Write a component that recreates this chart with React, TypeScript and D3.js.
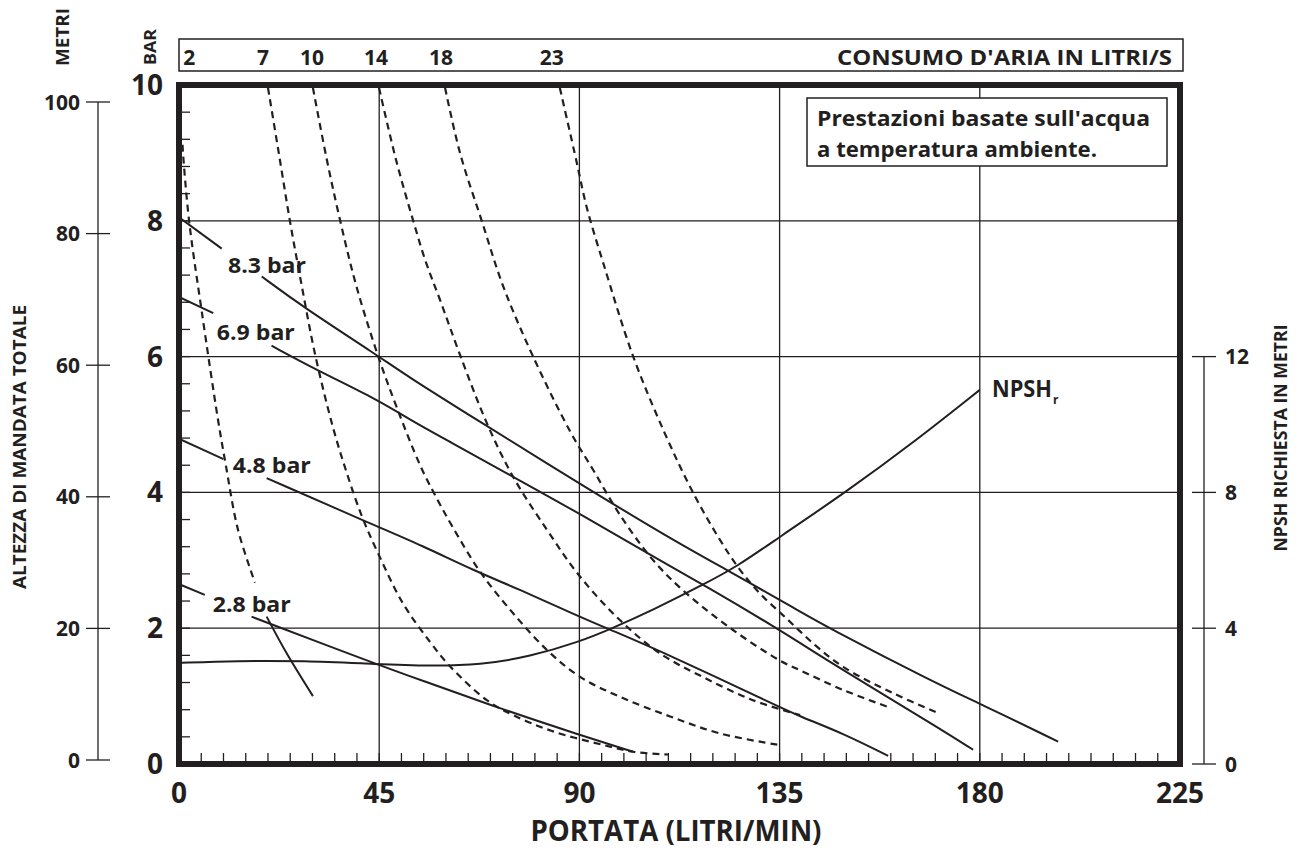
import React from 'react';
import * as d3 from 'd3';

// ---------- axes ----------
const flowTicks = [0, 45, 90, 135, 180, 225];
const barTicks = [0, 2, 4, 6, 8, 10];
const meterTicks = [0, 20, 40, 60, 80, 100];
const npshTicks = [0, 4, 8, 12];

// ---------- air consumption (L/s) ----------
const airLabels = ['2', '7', '10', '14', '18', '23'];
const airLabelFlow = [2.3, 18.9, 29.9, 44.3, 58.9, 83.8];

// [flow L/min, pressure bar]
const air2 = [[0.8, 9.12], [0.9, 9.0], [2.25, 8.01], [5.17, 6.64], [8.77, 5.07], [10.45, 4.43], [13.26, 3.45], [17.08, 2.67]];
const air2tail = [[19.7, 2.17], [24.2, 1.63], [30.1, 1.0]];
const air7 = [[20.0, 9.96], [22.5, 8.97], [24.9, 8.01], [27.6, 7.04], [30.6, 6.03], [34.6, 4.96], [37.5, 4.33], [41.1, 3.65], [44.7, 3.11], [50.3, 2.37], [56.4, 1.8], [60.9, 1.44], [69.2, 0.94], [75.1, 0.72], [84.1, 0.48], [95.4, 0.28], [102.1, 0.18], [110.0, 0.14]];
const air10 = [[30.1, 9.96], [33.2, 8.91], [36.2, 8.01], [39.9, 7.03], [44.8, 6.0], [48.9, 5.26], [54.2, 4.4], [57.8, 3.93], [61.6, 3.48], [67.7, 2.83], [75.1, 2.22], [82.7, 1.68], [90.0, 1.29], [99.1, 0.99], [110.4, 0.7], [121.6, 0.45], [134.9, 0.28]];
const air14 = [[44.96, 9.96], [48.78, 8.9], [52.6, 8.01], [55.5, 7.39], [58.7, 6.83], [63.2, 6.02], [69.2, 5.02], [75.1, 4.23], [82.7, 3.45], [89.9, 2.78], [99.1, 2.12], [108.1, 1.63], [117.8, 1.28], [129.0, 0.94], [139.6, 0.72]];
const air18 = [[59.8, 9.96], [63.2, 8.99], [68.0, 8.01], [72.9, 7.03], [79.6, 6.0], [87.9, 4.9], [93.1, 4.33], [99.1, 3.67], [106.6, 3.0], [114.1, 2.51], [124.6, 1.97], [134.9, 1.53], [139.6, 1.38], [149.3, 1.09], [160.2, 0.82]];
const air23 = [[85.6, 9.96], [89.4, 8.86], [91.6, 8.21], [95.4, 7.37], [102.1, 6.0], [109.2, 4.87], [115.6, 3.99], [121.6, 3.3], [126.1, 2.86], [130.6, 2.51], [136.6, 2.14], [143.0, 1.75], [149.3, 1.43], [160.6, 1.04], [170.3, 0.76]];

// ---------- pump curves at inlet air pressure ----------
const pressureLabels = ['8.3 bar', '6.9 bar', '4.8 bar', '2.8 bar'];
const p83a = [[0, 8.05], [9.6, 7.59]];
const p83b = [[18.6, 7.18], [27.9, 6.73], [44.8, 6.01], [50.4, 5.75], [66.9, 5.07], [90.0, 4.13], [110.4, 3.32], [123.1, 2.86], [139.8, 2.24], [145.6, 2.02], [169.5, 1.21], [180.0, 0.89], [197.6, 0.33]];
const p69a = [[0, 6.88], [7.7, 6.64]];
const p69b = [[20.8, 6.16], [31.0, 5.8], [44.8, 5.36], [51.9, 5.07], [60.2, 4.77], [75.1, 4.23], [90.0, 3.69], [110.4, 2.91], [117.9, 2.64], [134.9, 1.98], [139.6, 1.78], [149.3, 1.38], [170.3, 0.55], [178.5, 0.21]];
const p48a = [[0, 4.79], [10.0, 4.49]];
const p48b = [[19.7, 4.21], [44.8, 3.49], [54.2, 3.23], [66.9, 2.83], [75.9, 2.59], [90.0, 2.17], [96.9, 1.98], [111.1, 1.58], [134.9, 0.84], [139.6, 0.7], [149.3, 0.45], [159.4, 0.12]];
const p28a = [[0, 2.65], [5.8, 2.49]];
const p28b = [[16.3, 2.17], [44.8, 1.46], [54.2, 1.24], [72.9, 0.8], [90.0, 0.43], [102.1, 0.18]];

// ---------- NPSHr [flow L/min, metres] ----------
const npsh = [[0, 2.98], [13.0, 3.04], [27.9, 3.04], [44.7, 2.94], [56.4, 2.89], [67.7, 2.92], [78.9, 3.16], [90.0, 3.6], [96.9, 3.97], [106.6, 4.54], [117.9, 5.29], [125.4, 5.81], [134.9, 6.68], [149.7, 7.99], [165.8, 9.54], [180.0, 11.02]];

const INK = '#231f20';
const FONT = "'Open Sans', 'Noto Sans', 'DejaVu Sans', sans-serif";

export default function App() {
  const x = d3.scaleLinear().domain([0, 225]).range([179, 1180]);
  const y = d3.scaleLinear().domain([0, 10]).range([764, 85]);
  const yM = d3.scaleLinear().domain([0, 100]).range([760, 102]);
  const yN = d3.scaleLinear().domain([0, 12]).range([y(0), y(6)]);

  const lineP = d3.line<number[]>().x(d => x(d[0])).y(d => y(d[1])).curve(d3.curveBasis);
  const lineA = d3.line<number[]>().x(d => x(d[0])).y(d => y(d[1])).curve(d3.curveCatmullRom.alpha(0.5));
  const lineN = d3.line<number[]>().x(d => x(d[0])).y(d => yN(d[1])).curve(d3.curveBasis);

  const minorBar = d3.range(1, 25).map(k => k * 0.4);
  const minorFlow = d3.range(1, 45).map(k => k * 5);

  const airCurves = [air2, air7, air10, air14, air18, air23];
  const pumpParts = [p83a, p83b, p69a, p69b, p48a, p48b, p28a, p28b];
  // label anchors in data units (flow, bar)
  const pLabelPos = [[11.0, 7.23], [8.5, 6.24], [12.1, 4.29], [7.6, 2.24]];

  return (
    <svg width={1298} height={851} style={{ position: 'absolute', left: 0, top: 0, display: 'block', background: '#fff' }}
      fontFamily={FONT} fontWeight={700} fill={INK}>
      <defs>
        <clipPath id="plotClip">
          <rect x={x(0) + 3} y={y(10) + 3} width={x(225) - x(0) - 6} height={y(0) - y(10) - 6} />
        </clipPath>
      </defs>
      <rect x={0} y={0} width={1298} height={851} fill="#fff" />

      {/* grid */}
      <g stroke={INK} strokeWidth={1.3}>
        {flowTicks.slice(1, -1).map(v => (
          <line key={'gx' + v} x1={x(v)} x2={x(v)} y1={y(10)} y2={y(0)} />
        ))}
        {barTicks.slice(1, -1).map(v => (
          <line key={'gy' + v} x1={x(0)} x2={x(225)} y1={y(v)} y2={y(v)} />
        ))}
        {minorBar.map(v => (
          <line key={'mb' + v} x1={x(0)} x2={x(0) + 11} y1={y(v)} y2={y(v)} />
        ))}
        {minorFlow.map(v => (
          <line key={'mf' + v} x1={x(v)} x2={x(v)} y1={y(0)} y2={y(0) - 11} />
        ))}
      </g>

      {/* legend box */}
      <rect x={807} y={98} width={360} height={68} fill="#fff" stroke={INK} strokeWidth={1.5} />
      <text x={817} y={126} fontSize={21} textLength={333} lengthAdjust="spacingAndGlyphs">Prestazioni basate sull'acqua</text>
      <text x={817} y={157} fontSize={21} textLength={280} lengthAdjust="spacingAndGlyphs">a temperatura ambiente.</text>

      {/* curves */}
      <g clipPath="url(#plotClip)" fill="none" stroke={INK}>
        {airCurves.map((c, i) => (
          <path key={'air' + i} d={lineA(c) || ''} strokeWidth={2.2} strokeDasharray="7 5" />
        ))}
        <path d={lineA(air2tail) || ''} strokeWidth={2} />
        {pumpParts.map((c, i) => (
          <path key={'p' + i} d={lineP(c) || ''} strokeWidth={2} />
        ))}
        <path d={lineN(npsh) || ''} strokeWidth={2} />
      </g>

      {/* pressure labels */}
      {pressureLabels.map((t, i) => (
        <text key={t} x={x(pLabelPos[i][0])} y={y(pLabelPos[i][1])} fontSize={22} textLength={78} lengthAdjust="spacingAndGlyphs">{t}</text>
      ))}
      <text x={992} y={397} fontSize={23} textLength={60} lengthAdjust="spacingAndGlyphs">NPSH</text>
      <text x={1053} y={404} fontSize={12}>r</text>

      {/* plot frame */}
      <rect x={x(0)} y={y(10)} width={x(225) - x(0)} height={y(0) - y(10)} fill="none" stroke={INK} strokeWidth={6} />

      {/* top air consumption box */}
      <rect x={179} y={39} width={1004} height={32} fill="#fff" stroke={INK} strokeWidth={1.5} />
      {airLabels.map((t, i) => (
        <text key={'al' + t} x={x(airLabelFlow[i])} y={65} fontSize={21} textAnchor="middle">{t}</text>
      ))}
      <text x={1172} y={65} fontSize={21} textAnchor="end" textLength={335} lengthAdjust="spacingAndGlyphs">CONSUMO D'ARIA IN LITRI/S</text>

      {/* bar axis labels */}
      {barTicks.map(v => (
        <text key={'bl' + v} x={163} y={y(v)} dy="0.36em" fontSize={28} textAnchor="end">{v}</text>
      ))}
      <text transform="translate(156,47) rotate(-90)" fontSize={16} textAnchor="middle" textLength={36} lengthAdjust="spacingAndGlyphs">BAR</text>

      {/* metre axis */}
      <g stroke={INK} strokeWidth={1.3}>
        <line x1={98} x2={98} y1={yM(0)} y2={yM(100)} />
        {meterTicks.map(v => (
          <line key={'mt' + v} x1={86} x2={110} y1={yM(v)} y2={yM(v)} />
        ))}
      </g>
      {meterTicks.map(v => (
        <text key={'ml' + v} x={80} y={yM(v)} dy="0.36em" fontSize={21} textAnchor="end">{v}</text>
      ))}
      <text transform="translate(69,37) rotate(-90)" fontSize={17} textAnchor="middle" textLength={58} lengthAdjust="spacingAndGlyphs">METRI</text>
      <text transform="translate(26,447) rotate(-90)" fontSize={17} textAnchor="middle" textLength={284} lengthAdjust="spacingAndGlyphs">ALTEZZA DI MANDATA TOTALE</text>

      {/* NPSH axis */}
      <g stroke={INK} strokeWidth={1.3}>
        <line x1={1204} x2={1204} y1={yN(0)} y2={yN(12)} />
        {npshTicks.map(v => (
          <line key={'nt' + v} x1={1192} x2={1216} y1={yN(v)} y2={yN(v)} />
        ))}
      </g>
      {npshTicks.map(v => (
        <text key={'nl' + v} x={1225} y={yN(v)} dy="0.36em" fontSize={21}>{v}</text>
      ))}
      <text transform="translate(1287,438) rotate(-90)" fontSize={17} textAnchor="middle" textLength={227} lengthAdjust="spacingAndGlyphs">NPSH RICHIESTA IN METRI</text>

      {/* flow axis */}
      {flowTicks.map(v => (
        <text key={'fl' + v} x={x(v)} y={803} fontSize={28} textAnchor="middle">{v}</text>
      ))}
      <text x={676} y={841} fontSize={28} textAnchor="middle" textLength={291} lengthAdjust="spacingAndGlyphs">PORTATA (LITRI/MIN)</text>
    </svg>
  );
}
